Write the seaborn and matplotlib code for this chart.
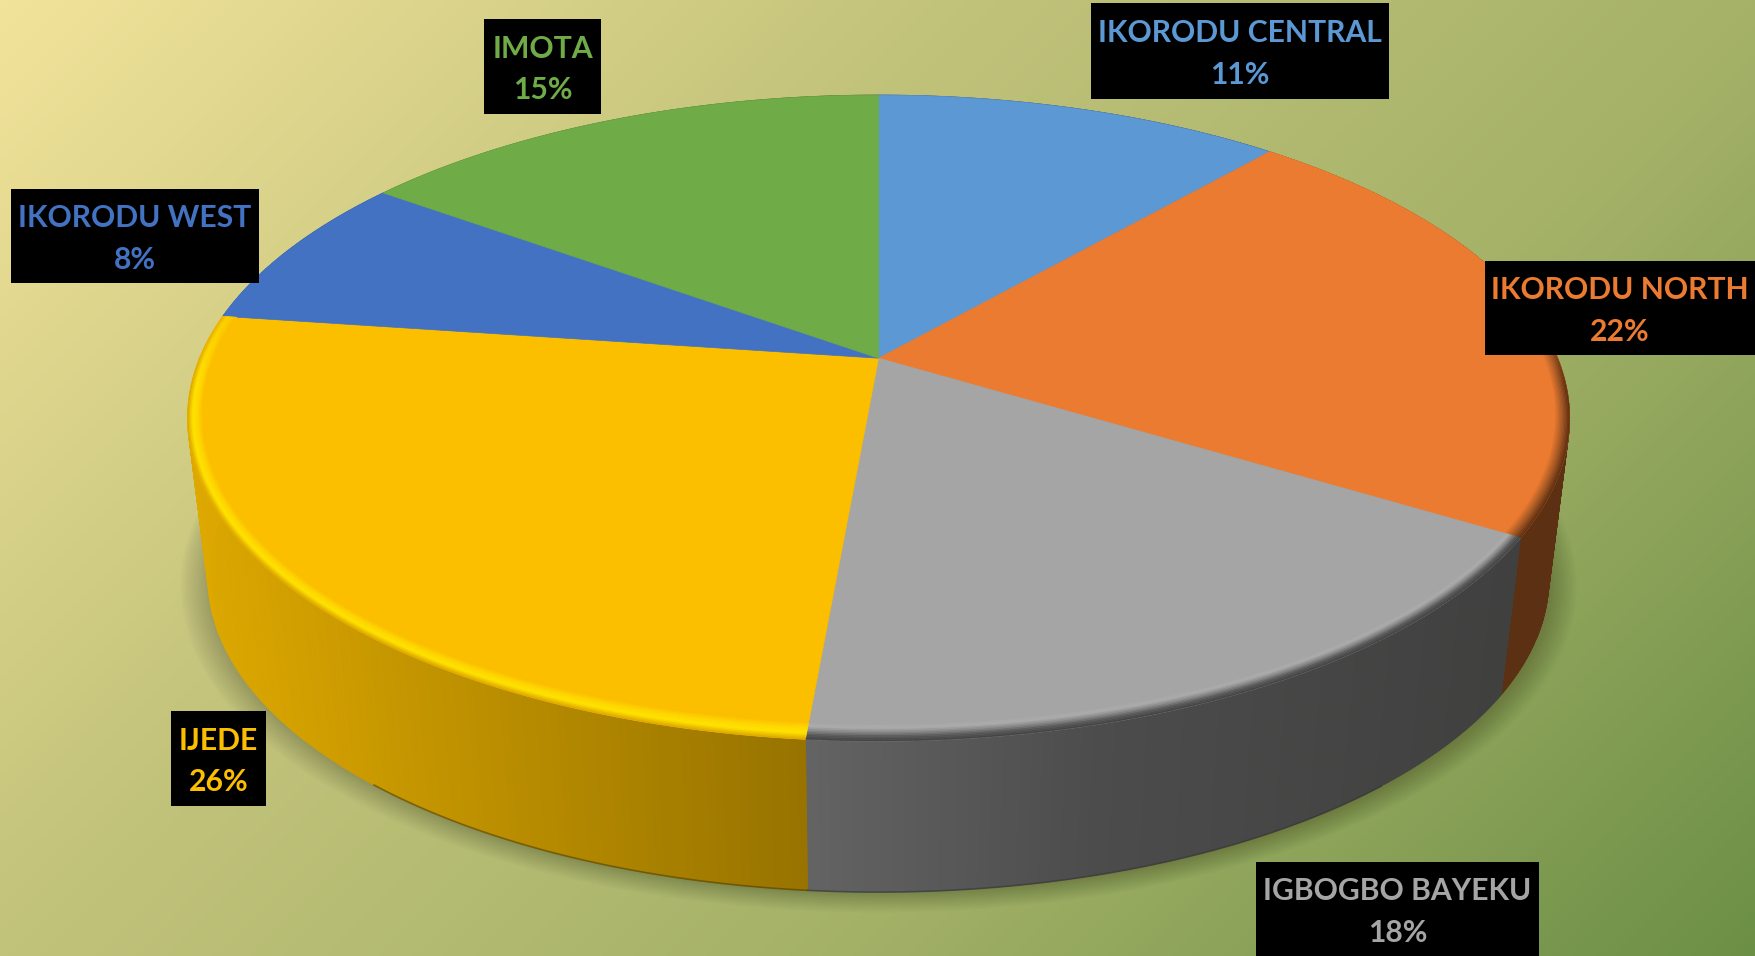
import matplotlib.pyplot as plt
import numpy as np
import seaborn as sns
from matplotlib.collections import PolyCollection
from matplotlib.colors import to_rgb
from matplotlib.patches import Polygon, Rectangle

names = ["IKORODU CENTRAL", "IKORODU NORTH", "IGBOGBO BAYEKU", "IJEDE", "IKORODU WEST", "IMOTA"]
shares = [11.4, 22.3, 17.7, 25.8, 7.8, 15.0]
colors = ["#5B98D4", "#EB7B30", "#A5A5A5", "#FBBF00", "#4472C2", "#6FAB46"]
rim_colors = [None, ["#5f3011", "#a85a26", "#EB7B30"],
              ["#444444", "#5a5a5a", "#8a8a8a", "#adadad", "#A5A5A5"],
              ["#e0aa00", "#ffe400", "#ffd800", "#FBBF00"], None, None]

# label boxes, left/right/top/bottom in pixels
boxes = [(1091, 1389, 3, 99), (1485, 1755, 261, 355), (1256, 1539, 862, 956),
         (171, 266, 711, 806), (11, 259, 189, 283), (484, 601, 19, 114)]

W, H = 1755, 956
sns.set_theme(style="white")
plt.rcParams["font.family"] = ["Lato", "DejaVu Sans"]

# perspective of the pie disc
cx, cy = 878.6, 358.2
a, b, k = 679.0, 311.9, 0.1854
low_scale, low_drop = 0.97, 162.5


def project(theta, r=1.0, scale=1.0, drop=0.0):
    x = r * np.sin(theta)
    y = r * np.cos(theta)
    d = 1 + k * y
    return cx + scale * a * x / d, cy + drop - scale * b * y / d


def side_shade(x):
    return np.interp(x, [190, 810, 1100, 1500], [0.88, 0.6, 0.46, 0.39])


def rim_radius(theta, frac, px=15.0):
    # keeps the bevel about the same width on screen all round
    return 1 - frac * px / np.hypot(a * np.sin(theta), 1.2 * b * np.cos(theta))


fig = plt.figure(figsize=(W / 100, H / 100), dpi=100)
ax = fig.add_axes([0, 0, 1, 1])

# background
yy, xx = np.mgrid[0:1:240j, 0:1:440j]
grad = (xx * W + yy * H) / (W + H)
bg = sns.blend_palette(["#F2E39A", "#C4C47C", "#A3B167", "#6C8F46"], as_cmap=True)
ax.imshow(grad, cmap=bg, extent=[0, W, H, 0], aspect="auto", vmin=0, vmax=1, zorder=0)

# soft shadow under the pie
t = np.linspace(0, 2 * np.pi, 400)
for grow in np.linspace(1.0, 1.04, 14):
    sx, sy = project(t, r=grow, scale=low_scale, drop=low_drop + 2)
    ax.add_patch(Polygon(np.c_[sx, sy], fc="black", ec="none", alpha=0.015, zorder=1))

edges = np.cumsum([0] + shares) / sum(shares) * 2 * np.pi

# side wall
for i, col in enumerate(colors):
    th = np.linspace(edges[i], edges[i + 1], 160)
    tx, ty = project(th)
    lx, ly = project(th, scale=low_scale, drop=low_drop)
    quads = [[(tx[j], ty[j]), (tx[j + 1], ty[j + 1]), (lx[j + 1], ly[j + 1]), (lx[j], ly[j])]
             for j in range(len(th) - 1)]
    base = np.array(to_rgb(col))
    shade = [tuple(base * side_shade((tx[j] + tx[j + 1]) / 2)) for j in range(len(th) - 1)]
    ax.add_collection(PolyCollection(quads, facecolors=shade, edgecolors=shade, linewidths=0.6, zorder=2))
    front = np.cos(th) < -0.75
    if front.any():
        ax.plot(lx[front], ly[front], color=tuple(base * 0.33), lw=1.2, alpha=0.6, zorder=2.5)

# top face
for i, col in enumerate(colors):
    th = np.linspace(edges[i], edges[i + 1], 200)
    tx, ty = project(th)
    ax.add_patch(Polygon(np.r_[[(cx, cy)], np.c_[tx, ty]], fc=col, ec=col, lw=0.5, zorder=3))

# bevel on the front rim
fracs = np.linspace(0, 1, 13)
for i, col in enumerate(colors):
    if rim_colors[i] is None:
        continue
    ramp = sns.blend_palette(rim_colors[i], n_colors=len(fracs) - 1)
    th = np.linspace(edges[i], edges[i + 1], 160)
    base = np.array(to_rgb(col))
    quads, fills = [], []
    for n in range(len(fracs) - 1):
        ox, oy = project(th, r=rim_radius(th, fracs[n]))
        ix, iy = project(th, r=rim_radius(th, fracs[n + 1]))
        for j in range(len(th) - 1):
            quads.append([(ox[j], oy[j]), (ox[j + 1], oy[j + 1]), (ix[j + 1], iy[j + 1]), (ix[j], iy[j])])
            fade = np.clip((0.32 - np.cos(th[j])) / 0.4, 0, 1)
            fills.append(tuple(base + (np.array(ramp[n]) - base) * fade))
    ax.add_collection(PolyCollection(quads, facecolors=fills, edgecolors=fills, linewidths=0.4, zorder=4))

# data labels
for name, share, col, (x0, x1, y0, y1) in zip(names, shares, colors, boxes):
    ax.add_patch(Rectangle((x0, y0), x1 - x0, y1 - y0, fc="black", ec="none", zorder=5))
    ax.text((x0 + x1) / 2, (y0 + y1) / 2 + 3, f"{name}\n{round(share)}%", color=col, fontsize=21.7,
            fontweight="bold", ha="center", va="center", linespacing=1.59, zorder=6)

ax.set_xlim(0, W)
ax.set_ylim(H, 0)
ax.axis("off")
fig.savefig("out.png", dpi=100)
